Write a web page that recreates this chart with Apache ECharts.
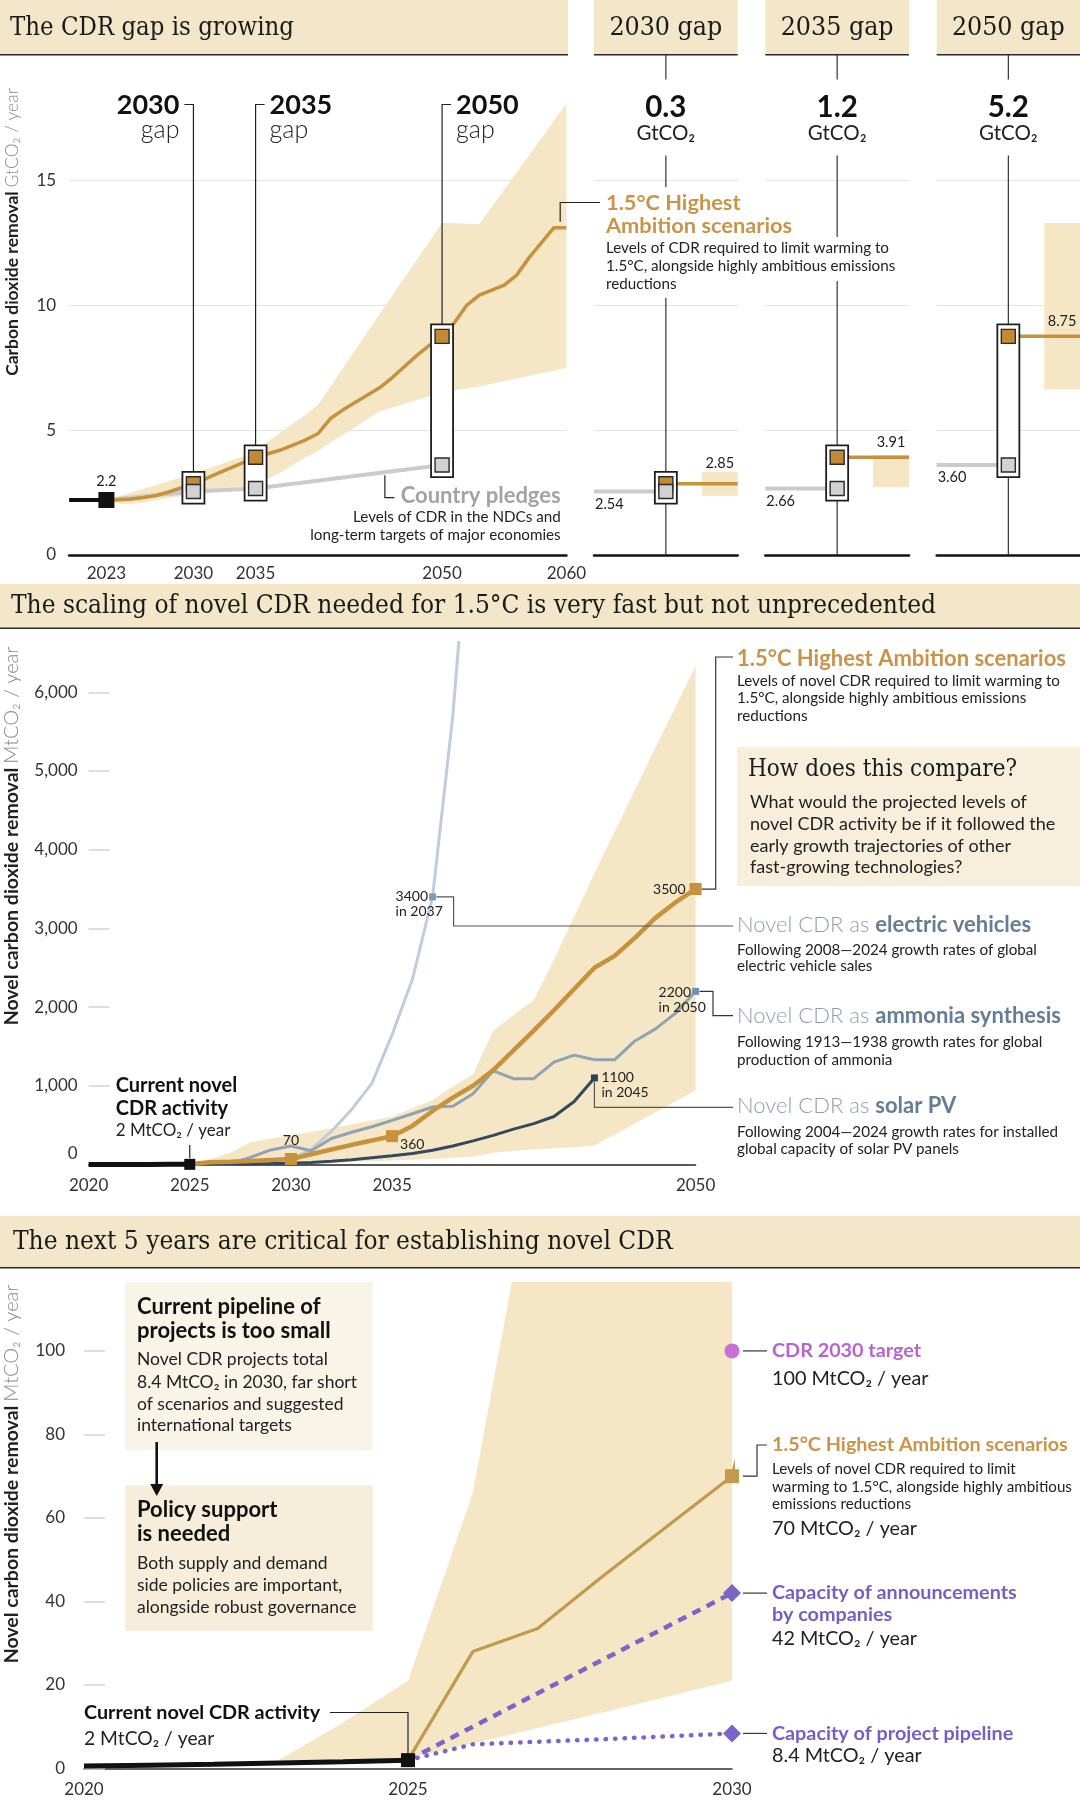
<!DOCTYPE html>
<html>
<head>
<meta charset="utf-8">
<style>
html, body {margin:0; padding:0; background:#fff}
#main {width:1080px; height:1806px}
</style>
</head>
<body>
<div id="main"></div>
<script src="https://cdn.jsdelivr.net/npm/echarts@6/dist/echarts.min.js"></script>
<script>
function range(a, b) { var r = []; for (var i = a; i <= b; i++) r.push(i); return r; }
function pairs(xs, ys) { return xs.map(function (x, i) { return [x, ys[i]]; }); }
function interp(xs, ys, x) {
    for (var i = 1; i < xs.length; i++) {
        if (x <= xs[i]) { var t = (x - xs[i - 1]) / (xs[i] - xs[i - 1]); return ys[i - 1] + t * (ys[i] - ys[i - 1]); }
    }
    return ys[ys.length - 1];
}

// ---- panel 1: total CDR, GtCO2 / year
var years1 = range(2023, 2060);
var scenarioGt = [2.2, 2.21, 2.24, 2.3, 2.38, 2.52, 2.68, 2.85, 3.06, 3.28, 3.49, 3.7, 3.91, 4.05, 4.2, 4.4, 4.6, 4.85,
    5.45, 5.8, 6.1, 6.4, 6.7, 7.1, 7.55, 8.0, 8.4, 8.75, 9.3, 10.0, 10.4, 10.6, 10.8, 11.2, 11.9, 12.5, 13.1, 13.1];
var bandHighGt = [2.2, 2.35, 2.5, 2.65, 2.8, 2.95, 3.1, 3.25, 3.43, 3.6, 3.78, 3.95, 4.2, 4.55, 4.9, 5.25, 5.6, 6.0,
    6.73, 7.46, 8.19, 8.92, 9.65, 10.38, 11.11, 11.84, 12.57, 13.3, 13.28, 13.26, 13.25, 13.94, 14.63, 15.31, 16.0, 16.69, 17.38, 18.06];
var bandLowGt = [2.2, 2.05, 2.05, 2.1, 2.2, 2.28, 2.35, 2.45, 2.55, 2.62, 2.68, 2.74, 2.8, 3.05, 3.3, 3.6, 3.9, 4.15,
    4.5, 4.8, 5.1, 5.45, 5.75, 5.9, 6.05, 6.2, 6.35, 6.5, 6.58, 6.66, 6.74, 6.85, 6.95, 7.06, 7.16, 7.27, 7.37, 7.48];
var pledgeYears = [2023, 2030, 2035, 2050];
var pledgeGt = [2.2, 2.54, 2.66, 3.60];
var currentYearsGt = [2020, 2023];
var currentGt = [2.2, 2.2];
var gapYears = [2030, 2035, 2050];
var gapPledge = [2.54, 2.66, 3.60];
var gapScenario = [2.85, 3.91, 8.75];
var gapRangeLow = [2.37, 2.71, 6.62];
var gapRangeHigh = [3.33, 4.0, 13.29];
var gapSizes = ['0.3', '1.2', '5.2'];
var xLabels1 = [2023, 2030, 2035, 2050, 2060];
var yTicks1 = [0, 5, 10, 15];

// ---- panel 2 and 3: novel CDR, MtCO2 / year
var novelYears = range(2025, 2050);
var scenarioMt = [2, 28, 33.5, 46, 58, 70, 130, 190, 250, 305, 360, 490, 680, 850, 1000, 1200,
    1450, 1700, 1960, 2230, 2500, 2650, 2880, 3130, 3330, 3500];
var bandYearsMt = range(2023, 2050);
var bandHighMt = [2, 11, 21, 66, 150, 280, 330, 370, 415, 460, 510, 560, 610, 710, 820, 990, 1150, 1700,
    1900, 2090, 2600, 3150, 3700, 4230, 4760, 5290, 5810, 6340];
var bandLowMt = [2, 2, 2.5, 6, 9.7, 13.4, 17.2, 21, 25, 30, 35, 42, 50, 60, 70, 85, 100, 150,
    170, 190, 205, 220, 240, 380, 520, 660, 800, 940];
var evYears = [2025, 2026, 2027, 2028, 2029, 2030, 2031, 2032, 2033, 2034, 2035, 2036, 2037, 2038, 2038.3];
var evMt = [2, 4, 8, 16, 35, 70, 190, 420, 700, 1030, 1650, 2350, 3400, 5700, 6650];
var ammoniaYears = range(2025, 2050);
var ammoniaMt = [2, 5, 12, 90, 185, 235, 175, 330, 410, 480, 560, 645, 730, 740, 900, 1190,
    1090, 1090, 1300, 1390, 1330, 1330, 1570, 1720, 1920, 2200];
var solarYears = range(2025, 2045);
var solarMt = [2, 4, 6, 9, 12, 16, 25, 40, 60, 85, 110, 140, 180, 235, 300, 370, 450, 520, 610, 800, 1100];
var currentYears = range(2020, 2025);
var currentMt = [0.6, 0.8, 1.0, 1.3, 1.6, 2.0];
var pipelineYears = range(2025, 2030);
var pipelineMt = [2, 5.8, 6.4, 7.0, 7.7, 8.4];
var announceYears = [2025, 2030];
var announceMt = [2, 42];
var targetYear = 2030;
var targetMt = 100;
var xLabels2 = [2020, 2025, 2030, 2035, 2050];
var yTicks2 = [0, 1000, 2000, 3000, 4000, 5000, 6000];
var xLabels3 = [2020, 2025, 2030];
var yTicks3 = [0, 20, 40, 60, 80, 100];

var ORANGE = '#c8913c', ORANGE_TXT = '#c9944a', BAND = '#f5e6c6', HEAD = '#f4e6c9';
var PLEDGE = '#cbcbcb', EV = '#bfcddb', AMM = '#8fa3b4', SOLAR = '#34495d';
var PURPLE = '#7866c8', PURPLE_TXT = '#7261c4', PINK = '#c870d8', PINK_TXT = '#b864cc';
var SERIF = '"DejaVu Serif Condensed", "DejaVu Serif", serif';
var SANS = 'Lato';

var chart = echarts.init(document.getElementById('main'));

var tickFont = {fontFamily: SANS, fontSize: 17, color: '#333'};

function boxItem(params, api) {
    var hi = api.coord([api.value(0), api.value(2)]);
    var lo = api.coord([api.value(0), api.value(1)]);
    return {type: 'rect', shape: {x: hi[0] - 11, y: hi[1] - 12, width: 22, height: lo[1] - hi[1] + 24},
        style: {fill: '#fff', stroke: '#1e1e1e', lineWidth: 1.8}};
}
function shadeItem(params, api) {
    var a = api.coord([api.value(0), api.value(3)]);
    var b = api.coord([api.value(1), api.value(2)]);
    return {type: 'rect', shape: {x: a[0], y: a[1], width: b[0] - a[0], height: b[1] - a[1]}, style: {fill: BAND}};
}
// scenario range drawn as one polygon through the axis scales
function bandSeries(ax, xs, lo, hi) {
    return {type: 'custom', xAxisIndex: ax, yAxisIndex: ax, silent: true, z: 1, clip: true,
        data: [[xs[0], lo[0]]],
        renderItem: function (params, api) {
            var pts = [];
            for (var i = 0; i < xs.length; i++) pts.push(api.coord([xs[i], hi[i]]));
            for (var j = xs.length - 1; j >= 0; j--) pts.push(api.coord([xs[j], lo[j]]));
            return {type: 'polygon', shape: {points: pts}, style: {fill: BAND}};
        }};
}
function lineS(ax, data, color, width, z, extra) {
    var s = {type: 'line', xAxisIndex: ax, yAxisIndex: ax, data: data, symbol: 'none', silent: true, z: z,
        lineStyle: {color: color, width: width}};
    for (var k in (extra || {})) s[k] = extra[k];
    return s;
}
function dots(ax, data, symbol, size, color, border, z) {
    return {type: 'scatter', xAxisIndex: ax, yAxisIndex: ax, data: data, symbol: symbol, symbolSize: size, silent: true, z: z,
        itemStyle: {color: color, borderColor: border || color, borderWidth: border ? 1.4 : 0, opacity: 1}};
}

var panelLeft = [594, 765.3, 936.7];
var panelWidth = [143.7, 143.7, 143.3];

var grids = [{left: 69.1, top: 55.2, width: 497.3, height: 499.8}];
var xAxes = [{gridIndex: 0, type: 'value', min: 2020, max: 2060,
    axisLine: {lineStyle: {color: '#111', width: 2.5}}, axisTick: {show: false}, splitLine: {show: false},
    axisLabel: Object.assign({customValues: xLabels1, margin: 10, formatter: function (v) { return String(v); }}, tickFont)}];
var yAxes = [{gridIndex: 0, type: 'value', min: 0, max: 20, interval: 5,
    axisLine: {show: false}, axisTick: {show: false, customValues: yTicks1},
    axisLabel: Object.assign({customValues: yTicks1, margin: 13}, tickFont),
    splitLine: {show: true, lineStyle: {color: '#e3e3e3', width: 1.2}}}];

var series = [];
series.push(bandSeries(0, years1, bandLowGt, bandHighGt));
series.push(lineS(0, pairs(pledgeYears, pledgeGt), PLEDGE, 4, 3));
series.push(lineS(0, pairs(years1, scenarioGt), ORANGE, 3.5, 4));
series.push(lineS(0, pairs(currentYearsGt, currentGt), '#111', 4, 4));
series.push({type: 'custom', xAxisIndex: 0, yAxisIndex: 0, renderItem: boxItem, silent: true, z: 5,
    data: gapYears.map(function (y, i) { return [y, gapPledge[i], gapScenario[i]]; })});
series.push(dots(0, pairs(gapYears, gapScenario), 'rect', 14, '#c38a36', '#2a2a2a', 6));
series.push(dots(0, pairs(gapYears, gapPledge), 'rect', 14, '#d2d2d2', '#2a2a2a', 7));
series.push(dots(0, [[currentYearsGt[1], currentGt[1]]], 'rect', 16, '#111', null, 8));

gapYears.forEach(function (y, k) {
    var ax = k + 1;
    grids.push({left: panelLeft[k], top: 55.2, width: panelWidth[k], height: 499.8});
    xAxes.push({gridIndex: ax, type: 'value', min: 0, max: 2, axisLine: {lineStyle: {color: '#111', width: 2.5}},
        axisTick: {show: false}, axisLabel: {show: false}, splitLine: {show: false}});
    yAxes.push({gridIndex: ax, type: 'value', min: 0, max: 20, interval: 5, axisLine: {show: false},
        axisTick: {show: false, customValues: yTicks1}, axisLabel: {show: false},
        splitLine: {show: true, lineStyle: {color: '#e3e3e3', width: 1.2}}});
    series.push({type: 'custom', xAxisIndex: ax, yAxisIndex: ax, renderItem: shadeItem, silent: true, z: 1,
        data: [[1.5, 2, gapRangeLow[k], gapRangeHigh[k]]]});
    series.push(lineS(ax, [[0, gapPledge[k]], [1, gapPledge[k]]], PLEDGE, 4, 3));
    series.push(lineS(ax, [[1, gapScenario[k]], [2, gapScenario[k]]], ORANGE, 3.5, 3));
    series.push({type: 'custom', xAxisIndex: ax, yAxisIndex: ax, renderItem: boxItem, silent: true, z: 5,
        data: [[1, gapPledge[k], gapScenario[k]]]});
    series.push(dots(ax, [[1, gapScenario[k]]], 'rect', 14, '#c38a36', '#2a2a2a', 6));
    series.push(dots(ax, [[1, gapPledge[k]]], 'rect', 14, '#d2d2d2', '#2a2a2a', 7));
});

// grid 4: scaling of novel CDR
grids.push({left: 88.6, top: 641.1, width: 607, height: 523.4});
xAxes.push({gridIndex: 4, type: 'value', min: 2020, max: 2050, axisLine: {lineStyle: {color: '#222', width: 1.5}},
    axisTick: {show: false}, splitLine: {show: false},
    axisLabel: Object.assign({customValues: xLabels2, margin: 13, formatter: function (v) { return String(v); }}, tickFont)});
yAxes.push({gridIndex: 4, type: 'value', min: 0, max: 6650, axisLine: {show: false},
    axisTick: {show: true, inside: true, length: 21, lineStyle: {color: '#d3d3d3', width: 1.5}, customValues: yTicks2},
    axisLabel: Object.assign({customValues: yTicks2, margin: 11,
        formatter: function (v) { return v === 0 ? '{z|0}' : v.toLocaleString('en-US'); },
        rich: {z: {fontFamily: SANS, fontSize: 17, color: '#333', padding: [0, 0, 22, 0]}}}, tickFont),
    splitLine: {show: false}});
series.push(bandSeries(4, bandYearsMt, bandLowMt, bandHighMt));
series.push(lineS(4, pairs(evYears, evMt), EV, 3, 3));
series.push(lineS(4, pairs(ammoniaYears, ammoniaMt), AMM, 3, 3));
series.push(lineS(4, pairs(solarYears, solarMt), SOLAR, 3, 3));
series.push(lineS(4, pairs(novelYears, scenarioMt), ORANGE, 4.5, 4));
series.push(lineS(4, pairs(currentYears, currentMt), '#111', 5, 5));
series.push(dots(4, [2030, 2035, 2050].map(function (y) { return [y, scenarioMt[novelYears.indexOf(y)]]; }), 'rect', 12, '#c8913c', null, 6));
series.push(dots(4, [[2037, evMt[evYears.indexOf(2037)]]], 'rect', 7, '#7b9cbb', null, 6));
series.push(dots(4, [[2050, ammoniaMt[ammoniaYears.indexOf(2050)]]], 'rect', 7, '#6f93b6', null, 6));
series.push(dots(4, [[2045, solarMt[solarYears.indexOf(2045)]]], 'rect', 7, '#2c4357', null, 6));
series.push(dots(4, [[2025, currentMt[currentMt.length - 1]]], 'rect', 11, '#111', null, 7));

// grid 5: next 5 years
grids.push({left: 84, top: 1282, width: 648, height: 486.5});
xAxes.push({gridIndex: 5, type: 'value', min: 2020, max: 2030, axisLine: {lineStyle: {color: '#333', width: 1.5}},
    axisTick: {show: false}, splitLine: {show: false},
    axisLabel: Object.assign({customValues: xLabels3, margin: 13, formatter: function (v) { return String(v); }}, tickFont)});
yAxes.push({gridIndex: 5, type: 'value', min: 0, max: 116.5, axisLine: {show: false},
    axisTick: {show: true, inside: true, length: 21, lineStyle: {color: '#d3d3d3', width: 1.5}, customValues: yTicks3},
    axisLabel: Object.assign({customValues: yTicks3, margin: 19}, tickFont),
    splitLine: {show: false}});
series.push(bandSeries(5, bandYearsMt, bandLowMt, bandHighMt));
series.push(lineS(5, pairs(novelYears, scenarioMt), '#c29a4c', 3.2, 4));
series.push(lineS(5, pairs(announceYears, announceMt), PURPLE, 4.5, 4, {lineStyle: {color: PURPLE, width: 4.5, type: [9, 7]}}));
series.push(lineS(5, pairs(pipelineYears, pipelineMt), PURPLE, 4.5, 4, {lineStyle: {color: PURPLE, width: 4.5, type: [0.5, 9], cap: 'round'}}));
series.push(lineS(5, pairs(currentYears, currentMt), '#111', 5, 5));
series.push(dots(5, [[2025, currentMt[currentMt.length - 1]]], 'rect', 14, '#111', null, 7));
series.push(dots(5, [[targetYear, targetMt]], 'circle', 15, PINK, null, 7));
series.push(dots(5, [[2030, scenarioMt[novelYears.indexOf(2030)]]], 'rect', 14, '#c29a4c', null, 7));
series.push(dots(5, [[2030, announceMt[announceMt.length - 1]], [2030, pipelineMt[pipelineMt.length - 1]]], 'diamond', 18, PURPLE, null, 7));

chart.setOption({
    animation: false,
    backgroundColor: '#fff',
    grid: grids,
    xAxis: xAxes,
    yAxis: yAxes,
    series: series
});

// ---- annotations placed from the axes' own scales
function px(grid, pt) { return chart.convertToPixel({gridIndex: grid}, pt); }
var g = [];
function T(x, y, text, o) {
    o = o || {};
    var st = {text: text, x: 0, y: 0, fill: o.color || '#222', fontFamily: o.family || SANS, fontSize: o.size || 15.2,
        fontWeight: o.weight || 'normal', align: o.align || 'left', textAlign: o.align || 'left',
        verticalAlign: 'middle', textVerticalAlign: 'middle'};
    if (o.rich) st.rich = o.rich;
    g.push({type: 'text', x: x, y: y, rotation: o.rot || 0, z: o.z || 20, silent: true, style: st});
}
function L(points, o) {
    o = o || {};
    g.push({type: 'polyline', z: o.z || 20, silent: true, shape: {points: points},
        style: {stroke: o.color || '#333', lineWidth: o.w || 1.2, fill: null}});
}
function R(x, y, w, h, fill, z) {
    g.push({type: 'rect', z: z || 50, silent: true, shape: {x: x, y: y, width: w, height: h}, style: {fill: fill}});
}
function header(x, y, w, h, title, tx, align, size) {
    R(x, y, w, h, HEAD, 50);
    L([[x, y + h], [x + w, y + h]], {w: 1.6, color: '#2a2a2a', z: 51});
    T(tx, y + h / 2 + 0.5, title, {family: SERIF, size: size, align: align, z: 52, color: '#1a1a1a'});
}

// section 1
header(0, 0, 568, 54.8, 'The CDR gap is growing', 10, 'left', 25.5);
gapYears.forEach(function (y, k) {
    var ax = k + 1;
    header(panelLeft[k], 0, panelWidth[k], 54.8, y + ' gap', panelLeft[k] + panelWidth[k] / 2, 'center', 26.5);
    // leader from the gap box in the main chart
    var top = px(0, [y, gapScenario[k]]);
    var cx = top[0], ty = top[1] - 12, dir = k === 0 ? -1 : 1;
    L([[cx, ty], [cx, 104.5], [cx + dir * 9, 104.5]], {w: 1.2, color: '#222', z: 6});
    T(cx + dir * 14, 105.5, String(y), {weight: 'bold', size: 27, align: dir < 0 ? 'right' : 'left', color: '#111'});
    T(cx + dir * 14, 129.5, 'gap', {weight: 300, size: 25, align: dir < 0 ? 'right' : 'left', color: '#222'});
    // panel
    var c = px(ax, [1, 0]);
    var pcx = c[0], base = c[1];
    L([[pcx, 54.8], [pcx, 79.5]], {w: 1.2, color: '#333', z: 1});
    var gaps = k === 0 ? [[187, 298]] : (k === 1 ? [[237, 281]] : []);
    var yy = 155.4;
    gaps.forEach(function (gp) { L([[pcx, yy], [pcx, gp[0]]], {w: 1.2, color: '#333', z: 1}); yy = gp[1]; });
    L([[pcx, yy], [pcx, base]], {w: 1.2, color: '#333', z: 1});
    T(pcx, 107.5, gapSizes[k], {weight: 'bold', size: 29.5, align: 'center', color: '#111'});
    T(pcx, 133.2, 'GtCO₂', {size: 20.5, align: 'center'});
    var pp = px(ax, [0, gapPledge[k]]);
    T(panelLeft[k] + 1, pp[1] + 12.5, gapPledge[k].toFixed(2), {size: 14.5});
    var sp = px(ax, [1.75, gapScenario[k]]);
    T(sp[0], sp[1] + (k === 0 ? -20 : -15), gapScenario[k].toFixed(2), {size: 14.5, align: 'center'});
});
var e = px(0, [2059.5, scenarioGt[scenarioGt.length - 1]]);
L([[e[0], e[1] - 6], [e[0], 202.5], [600, 202.5]], {w: 1.2, color: '#222'});
T(606, 202.7, '1.5°C Highest', {weight: 'bold', size: 21.8, color: ORANGE_TXT});
T(606, 226.4, 'Ambition scenarios', {weight: 'bold', size: 21.8, color: ORANGE_TXT});
T(606, 248.6, 'Levels of CDR required to limit warming to');
T(606, 266.4, '1.5°C, alongside highly ambitious emissions');
T(606, 284.1, 'reductions');
var q = px(0, [2045.4, interp(pledgeYears, pledgeGt, 2045.4)]);
L([[q[0], q[1] + 3], [q[0], 497.6], [q[0] + 9.5, 497.6]], {w: 1.2, color: '#222'});
T(560.7, 495.7, 'Country pledges', {weight: 'bold', size: 22, color: '#a3a3a3', align: 'right'});
T(560.7, 516.8, 'Levels of CDR in the NDCs and', {align: 'right'});
T(560.7, 535.3, 'long-term targets of major economies', {align: 'right'});
var b = px(0, [currentYearsGt[1], currentGt[1]]);
T(b[0], b[1] - 18.5, currentGt[1].toFixed(1), {size: 14.5, align: 'center'});
T(12, 232, '{a|Carbon dioxide removal} {b|GtCO₂ / year}', {rot: Math.PI / 2, align: 'center',
    rich: {a: {fontFamily: SANS, fontWeight: 'bold', fontSize: 17.5, fill: '#222'},
        b: {fontFamily: SANS, fontWeight: 300, fontSize: 17.5, fill: '#888'}}});

// section 2
header(0, 584, 1080, 44.2, 'The scaling of novel CDR needed for 1.5°C is very fast but not unprecedented', 11, 'left', 26);
var m70 = px(4, [2030, scenarioMt[novelYears.indexOf(2030)]]);
T(m70[0], m70[1] - 19, '70', {size: 14, align: 'center'});
var m360 = px(4, [2035, scenarioMt[novelYears.indexOf(2035)]]);
T(m360[0] + 8, m360[1] + 8, '360', {size: 14});
var m3500 = px(4, [2050, scenarioMt[novelYears.indexOf(2050)]]);
T(m3500[0] - 10, m3500[1], '3500', {size: 14, align: 'right'});
L([[m3500[0] + 6, m3500[1]], [715.7, m3500[1]], [715.7, 657], [733, 657]], {w: 1.2, color: '#333'});
var mev = px(4, [2037, evMt[evYears.indexOf(2037)]]);
T(mev[0] - 37, mev[1], '3400', {size: 14});
T(mev[0] - 37, mev[1] + 15, 'in 2037', {size: 14});
L([[mev[0] + 4, mev[1]], [453.6, mev[1]], [453.6, 926], [733, 926]], {w: 1.2, color: '#555'});
var mam = px(4, [2050, ammoniaMt[ammoniaYears.indexOf(2050)]]);
T(mam[0] - 37, mam[1] + 1, '2200', {size: 14});
T(mam[0] - 37, mam[1] + 16, 'in 2050', {size: 14});
L([[mam[0] + 4, mam[1]], [713, mam[1]], [713, 1015.7], [733, 1015.7]], {w: 1.2, color: '#333'});
var mso = px(4, [2045, solarMt[solarYears.indexOf(2045)]]);
T(mso[0] + 7, mso[1], '1100', {size: 14});
T(mso[0] + 7, mso[1] + 15, 'in 2045', {size: 14});
L([[mso[0], mso[1] + 4], [mso[0], 1107.3], [733, 1107.3]], {w: 1.2, color: '#555'});
var mcur = px(4, [2025, currentMt[currentMt.length - 1]]);
L([[mcur[0], mcur[1] - 6], [mcur[0], 1145]], {w: 1.2, color: '#222'});
T(115.7, 1086, 'Current novel', {weight: 'bold', size: 20, color: '#111'});
T(115.7, 1108.6, 'CDR activity', {weight: 'bold', size: 20, color: '#111'});
T(115.7, 1131, '2 MtCO₂ / year', {size: 17});

T(737, 659, '1.5°C Highest Ambition scenarios', {weight: 'bold', size: 22, color: ORANGE_TXT});
T(737, 681.4, 'Levels of novel CDR required to limit warming to');
T(737, 697.9, '1.5°C, alongside highly ambitious emissions');
T(737, 715.7, 'reductions');
R(737, 746.8, 343, 139.2, '#f7eedc', 10);
T(748, 770, 'How does this compare?', {family: SERIF, size: 24, color: '#1a1a1a'});
T(750, 802, 'What would the projected levels of', {size: 18});
T(750, 824, 'novel CDR activity be if it followed the', {size: 18});
T(750, 846, 'early growth trajectories of other', {size: 18});
T(750, 867, 'fast-growing technologies?', {size: 18});
var techRich = {a: {fontFamily: SANS, fontWeight: 300, fontSize: 22, fill: '#8e9dab'},
    b: {fontFamily: SANS, fontWeight: 'bold', fontSize: 22, fill: '#667e95'}};
T(737, 925.4, '{a|Novel CDR as }{b|electric vehicles}', {rich: techRich});
T(737, 950, 'Following 2008—2024 growth rates of global');
T(737, 966.4, 'electric vehicle sales');
T(737, 1015.7, '{a|Novel CDR as }{b|ammonia synthesis}', {rich: techRich});
T(737, 1042, 'Following 1913—1938 growth rates for global');
T(737, 1060, 'production of ammonia');
T(737, 1106.4, '{a|Novel CDR as }{b|solar PV}', {rich: techRich});
T(737, 1132.5, 'Following 2004—2024 growth rates for installed');
T(737, 1149.6, 'global capacity of solar PV panels');
var nameRich = {a: {fontFamily: SANS, fontWeight: 'bold', fontSize: 19.5, fill: '#222'},
    b: {fontFamily: SANS, fontWeight: 300, fontSize: 20, fill: '#888'}};
T(11.5, 836, '{a|Novel carbon dioxide removal} {b|MtCO₂ / year}', {rot: Math.PI / 2, align: 'center', rich: nameRich});

// section 3
header(0, 1215.7, 1080, 52.1, 'The next 5 years are critical for establishing novel CDR', 13, 'left', 26);
R(125, 1282, 247.8, 168, '#f8f4e7', 10);
T(137, 1307, 'Current pipeline of', {weight: 'bold', size: 22, color: '#111'});
T(137, 1331, 'projects is too small', {weight: 'bold', size: 22, color: '#111'});
T(137, 1359, 'Novel CDR projects total', {size: 17.5});
T(137, 1382, '8.4 MtCO₂ in 2030, far short', {size: 17.5});
T(137, 1404, 'of scenarios and suggested', {size: 17.5});
T(137, 1425.5, 'international targets', {size: 17.5});
R(125, 1485.6, 247.8, 145.4, '#f6eedb', 10);
L([[156.7, 1442], [156.7, 1487]], {w: 2.6, color: '#111', z: 21});
g.push({type: 'polygon', z: 21, silent: true, shape: {points: [[150.2, 1484], [163.2, 1484], [156.7, 1496]]}, style: {fill: '#111'}});
T(137, 1510, 'Policy support', {weight: 'bold', size: 22, color: '#111'});
T(137, 1534, 'is needed', {weight: 'bold', size: 22, color: '#111'});
T(137, 1563.5, 'Both supply and demand', {size: 17.5});
T(137, 1585, 'side policies are important,', {size: 17.5});
T(137, 1607, 'alongside robust governance', {size: 17.5});
var mc3 = px(5, [2025, currentMt[currentMt.length - 1]]);
T(84, 1712.5, 'Current novel CDR activity', {weight: 'bold', size: 19.8, color: '#111'});
T(84, 1739, '2 MtCO₂ / year', {size: 19.3});
L([[330, 1712.5], [mc3[0], 1712.5], [mc3[0], mc3[1] - 7]], {w: 1.2, color: '#222'});
var mt = px(5, [targetYear, targetMt]);
L([[mt[0] + 11, mt[1]], [767, mt[1]]], {w: 1.2, color: '#333'});
T(772, mt[1], 'CDR 2030 target', {weight: 'bold', size: 19.8, color: PINK_TXT});
T(772, mt[1] + 27.7, targetMt + ' MtCO₂ / year', {size: 19.8});
var ms = px(5, [2030, scenarioMt[novelYears.indexOf(2030)]]);
L([[ms[0] + 11, ms[1]], [757, ms[1]], [757, 1445], [767, 1445]], {w: 1.2, color: '#333'});
T(772, 1445, '1.5°C Highest Ambition scenarios', {weight: 'bold', size: 19.8, color: ORANGE_TXT});
T(772, 1469, 'Levels of novel CDR required to limit');
T(772, 1486.7, 'warming to 1.5°C, alongside highly ambitious');
T(772, 1504, 'emissions reductions');
T(772, 1529, scenarioMt[novelYears.indexOf(2030)] + ' MtCO₂ / year', {size: 19.8});
var ma = px(5, [2030, announceMt[announceMt.length - 1]]);
L([[ma[0] + 11, ma[1]], [767, ma[1]]], {w: 1.2, color: '#333'});
T(772, ma[1], 'Capacity of announcements', {weight: 'bold', size: 19.8, color: PURPLE_TXT});
T(772, ma[1] + 21.7, 'by companies', {weight: 'bold', size: 19.8, color: PURPLE_TXT});
T(772, ma[1] + 45.7, announceMt[announceMt.length - 1] + ' MtCO₂ / year', {size: 19.8});
var mp = px(5, [2030, pipelineMt[pipelineMt.length - 1]]);
L([[mp[0] + 11, mp[1]], [767, mp[1]]], {w: 1.2, color: '#333'});
T(772, mp[1], 'Capacity of project pipeline', {weight: 'bold', size: 19.8, color: PURPLE_TXT});
T(772, mp[1] + 22, pipelineMt[pipelineMt.length - 1] + ' MtCO₂ / year', {size: 19.8});
T(11.8, 1474, '{a|Novel carbon dioxide removal} {b|MtCO₂ / year}', {rot: Math.PI / 2, align: 'center', rich: nameRich});

chart.setOption({graphic: {elements: g}});
</script>
</body>
</html>
